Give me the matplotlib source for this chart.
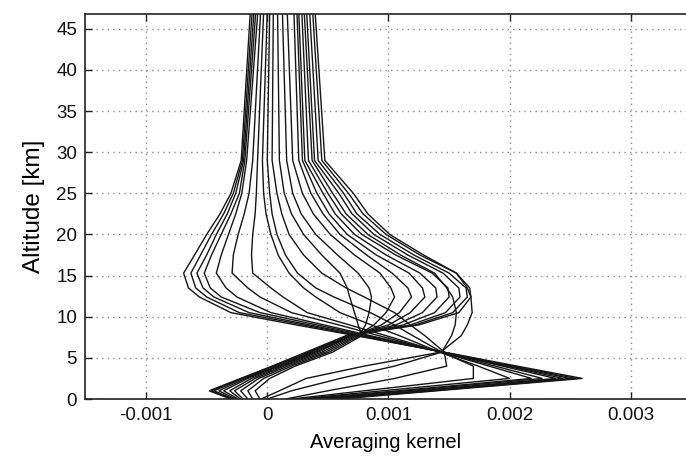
import matplotlib
matplotlib.use("Agg")
import matplotlib.pyplot as plt

# Altitude grid of the kernels [km]
altitude_km = [0, 1, 2.5, 4, 5.7, 7.7, 9, 10.5, 12.4, 13.5, 15.3, 17.5, 20, 22.5, 25, 29, 47]

# Averaging kernel values, in units of 1e-4 (one list per kernel)
# near-surface peaked kernels
ak_s0 = [6.0, 14.0, 26.0, 20.6, 14.6, 7.3, 2.4, -3.0, -5.6, -6.5, -6.9, -6.0, -5.0, -3.9, -3.0, -2.15, -1.4]
ak_s1 = [5.5, 13.6, 25.5, 20.3, 14.5, 7.5, 3.0, -2.3, -5.0, -5.9, -6.3, -5.5, -4.6, -3.6, -2.8, -2.05, -1.25]
ak_s2 = [5.0, 13.2, 25.0, 20.0, 14.5, 7.8, 3.5, -1.5, -4.4, -5.3, -5.8, -5.0, -4.2, -3.3, -2.6, -1.95, -1.1]
ak_s3 = [4.6, 12.8, 24.4, 19.7, 14.4, 8.2, 4.1, -0.6, -3.8, -4.7, -5.2, -4.6, -3.8, -3.0, -2.3, -1.85, -0.95]
ak_s4 = [4.2, 12.4, 23.8, 19.4, 14.4, 8.5, 4.7, 0.3, -2.5, -3.4, -4.2, -3.8, -3.2, -2.6, -2.1, -1.7, -0.78]
ak_s5 = [3.6, 11.5, 22.7, 18.8, 14.3, 9.2, 5.9, 2.0, -0.6, -1.6, -2.9, -2.8, -2.4, -1.9, -1.5, -1.2, -0.55]
ak_s6 = [3.0, 10.8, 21.8, 18.3, 14.3, 9.8, 6.8, 3.3, 1.3, 0.3, -1.2, -1.3, -1.2, -1.0, -0.9, -0.8, -0.3]
ak_s7 = [2.5, 9.5, 20.0, 17.4, 14.2, 10.9, 8.6, 6.0, 4.0, 3.0, 1.8, 0.9, 0.3, -0.1, -0.3, -0.4, 0.0]
# mid-troposphere kernels
ak_m0 = [2.0, 8.0, 17.0, 17.0, 14.4, 12.0, 10.5, 8.5, 5.5, 4.0, 2.5, 1.5, 0.8, 0.4, 0.2, 0.0, 0.2]
ak_m1 = [1.5, 5.0, 10.5, 14.8, 14.6, 13.0, 11.8, 10.5, 8.0, 6.5, 4.5, 3.0, 1.8, 1.2, 0.8, 0.4, 0.5]
ak_m2 = [0.0, 2.0, 6.0, 10.5, 14.4, 15.2, 15.5, 15.6, 15.3, 14.8, 13.8, 11.0, 8.3, 6.5, 5.4, 3.7, 3.05]
ak_m3 = [-0.5, 1.0, 3.2, 8.0, 14.3, 16.0, 16.5, 16.9, 16.8, 16.5, 15.6, 12.9, 10.1, 8.3, 7.1, 4.75, 3.95]
# upper-troposphere kernels
ak_u0 = [-0.6, -1.0, 0.2, 2.3, 5.4, 7.8, 7.5, 7.2, 6.8, 6.6, 6.0, 4.5, 3.0, 2.0, 1.4, 1.0, 0.85]
ak_u1 = [-1.2, -1.6, -0.3, 2.0, 5.1, 7.6, 8.1, 8.4, 8.6, 8.4, 7.5, 5.8, 4.0, 2.8, 2.1, 1.6, 1.25]
ak_u2 = [-1.6, -2.2, -0.7, 1.7, 4.8, 7.4, 8.8, 9.8, 10.5, 10.2, 9.3, 7.2, 5.2, 3.8, 2.9, 2.1, 1.65]
ak_u3 = [-2.0, -2.7, -1.0, 1.4, 4.5, 7.2, 9.4, 10.9, 11.9, 11.6, 10.3, 8.2, 6.0, 4.6, 3.6, 2.6, 2.2]
ak_u4 = [-2.2, -3.1, -1.3, 1.2, 4.2, 7.0, 10.0, 11.8, 13.0, 12.8, 11.7, 9.0, 6.6, 5.1, 4.1, 2.9, 2.45]
ak_u5 = [-2.4, -3.6, -1.6, 1.0, 4.0, 6.9, 10.6, 12.8, 14.0, 13.9, 12.6, 9.8, 7.2, 5.6, 4.6, 3.1, 2.6]
ak_u6 = [-2.6, -4.0, -1.8, 0.8, 3.8, 6.8, 11.2, 13.8, 15.0, 14.9, 13.6, 10.6, 7.8, 6.1, 5.0, 3.4, 2.85]
ak_u7 = [-2.8, -4.4, -2.0, 0.6, 3.6, 6.7, 11.8, 14.7, 15.9, 15.8, 14.5, 11.6, 8.8, 7.0, 5.9, 3.9, 3.25]
ak_u8 = [-2.9, -4.6, -2.1, 0.5, 3.4, 6.6, 12.2, 15.3, 16.5, 16.4, 15.0, 12.1, 9.3, 7.4, 6.3, 4.2, 3.5]
ak_u9 = [-3.0, -4.8, -2.2, 0.4, 3.2, 6.5, 12.5, 15.8, 16.8, 16.7, 15.6, 12.6, 9.8, 7.9, 6.7, 4.5, 3.75]

kernels = [ak_s0, ak_s1, ak_s2, ak_s3, ak_s4, ak_s5, ak_s6, ak_s7,
           ak_m0, ak_m1, ak_m2, ak_m3,
           ak_u0, ak_u1, ak_u2, ak_u3, ak_u4, ak_u5, ak_u6, ak_u7, ak_u8, ak_u9]
unit = 1e-4

x_ticks = [-0.001, 0, 0.001, 0.002, 0.003]
x_tick_labels = ["-0.001", "0", "0.001", "0.002", "0.003"]
y_ticks = [0, 5, 10, 15, 20, 25, 30, 35, 40, 45]

plt.rcParams['font.family'] = ['Liberation Sans', 'DejaVu Sans']

fig = plt.figure(figsize=(6.86, 4.63), dpi=100)
ax = fig.add_axes([0.1245, 0.1382, 0.8755, 0.8316])

for k in kernels:
    ax.plot([v * unit for v in k], altitude_km, color='#151515', lw=1.0,
            solid_joinstyle='miter')

ax.set_xlim(-0.0015, 0.003454)
ax.set_ylim(0, 46.8)
ax.set_xticks(x_ticks)
ax.set_xticklabels(x_tick_labels)
ax.set_yticks(y_ticks)
ax.grid(True, color='#8c8c8c', linestyle=(0, (1, 3)), lw=1.0)
ax.set_axisbelow(True)
ax.tick_params(direction='in', length=5, width=1.0, top=True, right=False,
               labelsize=13.5, pad=6, colors='#222222', labelcolor='#111111')
ax.spines['right'].set_visible(False)
for s in ['left', 'bottom', 'top']:
    ax.spines[s].set_linewidth(1.2)
    ax.spines[s].set_color('#222222')
ax.set_xlabel("Averaging kernel", fontsize=14.5, labelpad=6)
ax.set_ylabel("Altitude [km]", fontsize=17.5, labelpad=8)

fig.savefig("out.png", dpi=100)
